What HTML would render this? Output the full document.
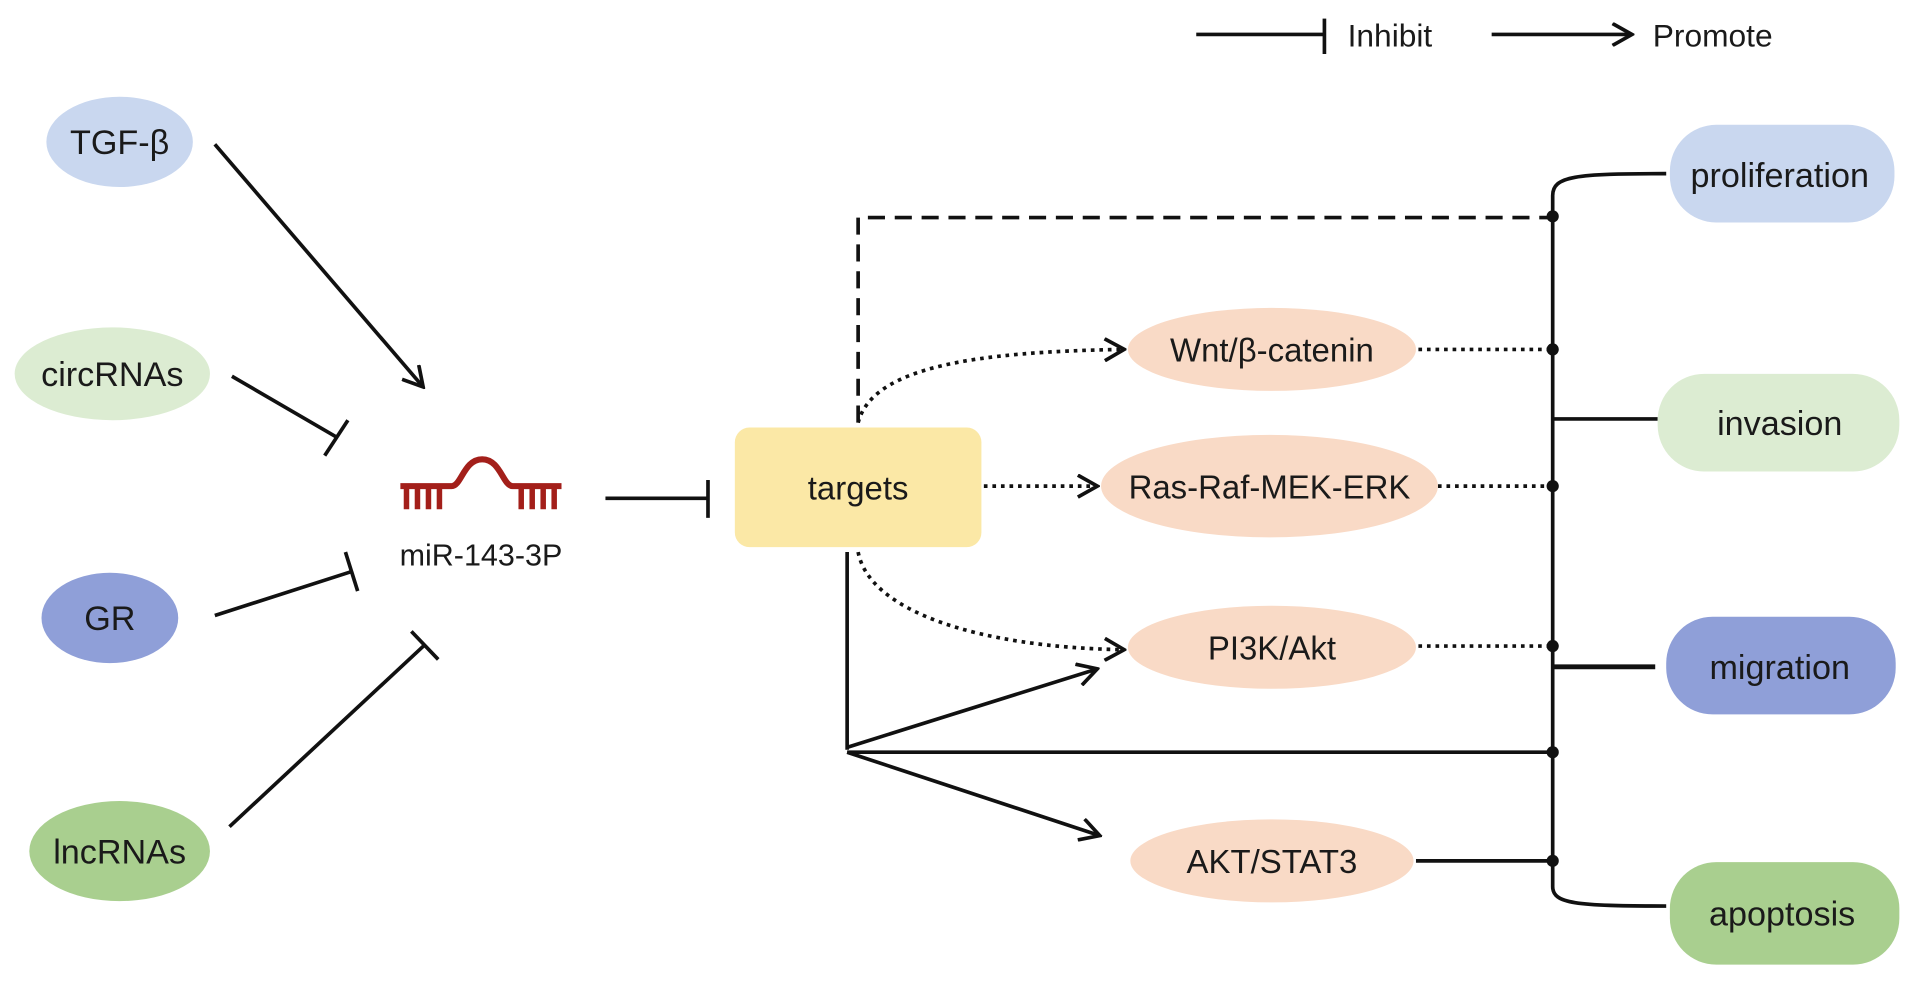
<!DOCTYPE html>
<html><head><meta charset="utf-8"><style>html,body{margin:0;padding:0;background:#fff}svg{display:block}text{font-family:"Liberation Sans",sans-serif;fill:#1a1a1a}</style></head><body>
<svg width="1914" height="982" viewBox="0 0 1568 804" xmlns="http://www.w3.org/2000/svg">
<defs><marker id="b" markerWidth="20" markerHeight="20" refX="17" refY="10" orient="auto" markerUnits="userSpaceOnUse" viewBox="0 0 20 20"><path d="M2,1 L18,10 L2,19" fill="none" stroke="#111" stroke-width="3"/></marker></defs>
<g stroke="#111" stroke-width="3" fill="none">
<line x1="980" y1="28" x2="1085" y2="28"/><line x1="1085" y1="15" x2="1085" y2="44"/>
<line x1="1222" y1="28" x2="1336" y2="28" marker-end="url(#b)"/>
<line x1="176" y1="118" x2="346" y2="316" marker-end="url(#b)"/>
<line x1="190" y1="308" x2="276" y2="358"/><line x1="266" y1="373" x2="285" y2="344"/>
<line x1="176" y1="504" x2="288" y2="468"/><line x1="283" y1="452" x2="293" y2="484"/>
<line x1="188" y1="677" x2="348" y2="528"/><line x1="337" y1="517" x2="359" y2="540"/>
<line x1="496" y1="408" x2="580" y2="408"/><line x1="580" y1="393" x2="580" y2="424"/>
<path d="M703,346 V178 H1272" stroke-dasharray="14,8"/>
<g stroke-dasharray="3,4"><path d="M703,346 C715,300 800,288 920,286" marker-end="url(#b)"/>
<line x1="806" y1="398" x2="898" y2="398" marker-end="url(#b)"/>
<path d="M703,452 C712,500 800,530 920,532" marker-end="url(#b)"/>
<line x1="1162" y1="286" x2="1272" y2="286"/><line x1="1178" y1="398" x2="1272" y2="398"/><line x1="1162" y1="529" x2="1272" y2="529"/></g>
<line x1="694" y1="452" x2="694" y2="614"/>
<line x1="694" y1="612" x2="898" y2="548" marker-end="url(#b)"/>
<line x1="694" y1="616" x2="1272" y2="616"/>
<line x1="694" y1="616" x2="900" y2="684" marker-end="url(#b)"/>
<line x1="1160" y1="705" x2="1272" y2="705"/>
<path d="M1365,142 C1290,142 1272,144 1272,160 V726 C1272,740 1290,742 1365,742"/>
<line x1="1272" y1="343" x2="1358" y2="343"/><line x1="1272" y1="546" x2="1356" y2="546" stroke-width="4"/>
</g>
<g fill="#111"><circle cx="1272" cy="177" r="5"/><circle cx="1272" cy="286" r="5"/><circle cx="1272" cy="398" r="5"/><circle cx="1272" cy="529" r="5"/><circle cx="1272" cy="616" r="5"/><circle cx="1272" cy="705" r="5"/></g>
<text x="1104" y="38" font-size="26">Inhibit</text><text x="1354" y="38" font-size="26">Promote</text>
<ellipse cx="98" cy="116" rx="60" ry="37" fill="#c9d7ef"/><text x="98" y="126" font-size="28" text-anchor="middle">TGF-β</text>
<ellipse cx="92" cy="306" rx="80" ry="38" fill="#dcecd2"/><text x="92" y="316" font-size="28" text-anchor="middle">circRNAs</text>
<ellipse cx="90" cy="506" rx="56" ry="37" fill="#8f9fd8"/><text x="90" y="516" font-size="28" text-anchor="middle">GR</text>
<ellipse cx="98" cy="697" rx="74" ry="41" fill="#a9cf8f"/><text x="98" y="707" font-size="28" text-anchor="middle">lncRNAs</text>
<g stroke="#a31f1a" stroke-width="5" fill="none"><path d="M328,398 H370 C378,398 380,376 395,376 C410,376 412,398 420,398 H460"/>
<path d="M333,398 V417 M342,398 V417 M351,398 V417 M360,398 V417 M427,398 V417 M436,398 V417 M445,398 V417 M454,398 V417" stroke-width="4.5"/></g>
<text x="394" y="463" font-size="25" text-anchor="middle">miR-143-3P</text>
<rect x="602" y="350" width="202" height="98" rx="12" fill="#fbe8a6"/><text x="703" y="409" font-size="27" text-anchor="middle">targets</text>
<ellipse cx="1042" cy="286" rx="118" ry="34" fill="#f9dac6"/><text x="1042" y="296" font-size="27" text-anchor="middle">Wnt/β-catenin</text>
<ellipse cx="1040" cy="398" rx="138" ry="42" fill="#f9dac6"/><text x="1040" y="408" font-size="27" text-anchor="middle">Ras-Raf-MEK-ERK</text>
<ellipse cx="1042" cy="530" rx="118" ry="34" fill="#f9dac6"/><text x="1042" y="540" font-size="27" text-anchor="middle">PI3K/Akt</text>
<ellipse cx="1042" cy="705" rx="116" ry="34" fill="#f9dac6"/><text x="1042" y="715" font-size="27" text-anchor="middle">AKT/STAT3</text>
<rect x="1368" y="102" width="184" height="80" rx="38" fill="#c9d7ef"/><text x="1458" y="153" font-size="28" text-anchor="middle">proliferation</text>
<rect x="1358" y="306" width="198" height="80" rx="38" fill="#dcecd2"/><text x="1458" y="356" font-size="28" text-anchor="middle">invasion</text>
<rect x="1365" y="505" width="188" height="80" rx="38" fill="#8f9fd8"/><text x="1458" y="556" font-size="28" text-anchor="middle">migration</text>
<rect x="1368" y="706" width="188" height="84" rx="38" fill="#a9cf8f"/><text x="1460" y="758" font-size="28" text-anchor="middle">apoptosis</text>
</svg></body></html>
